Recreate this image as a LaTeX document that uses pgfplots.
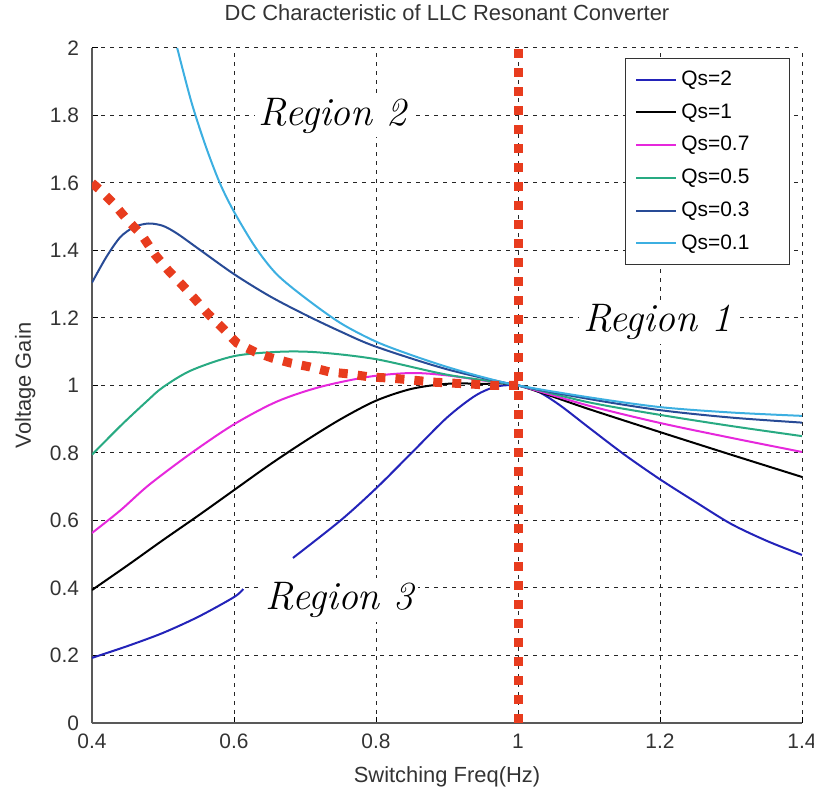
\documentclass[border=0pt]{standalone}
\usepackage{pgfplots}
\pgfplotsset{compat=1.18}
\usepackage{fontspec}
\newfontfamily\arial{Liberation Sans}
\definecolor{cQtwo}{RGB}{35,35,185}
\definecolor{cQone}{RGB}{0,0,0}
\definecolor{cQseven}{RGB}{230,40,220}
\definecolor{cQfive}{RGB}{40,170,130}
\definecolor{cQthree}{RGB}{40,75,150}
\definecolor{cQzero}{RGB}{60,175,225}
\definecolor{cRed}{RGB}{232,60,30}
\begin{document}
\begin{tikzpicture}
\begin{axis}[
  scale only axis, width=355bp, height=337.5bp,
  xmin=0.4, xmax=1.4, ymin=0, ymax=2,
  xtick={0.4,0.6,0.8,1,1.2,1.4},
  ytick={0,0.2,0.4,0.6,0.8,1,1.2,1.4,1.6,1.8,2},
  axis lines=left,
  axis line style={-, draw=black!65, line width=0.8bp},
  tick align=inside, major tick length=3bp,
  tick style={black, line width=0.5bp},
  grid=major,
  major grid style={black!85, line width=0.5bp, dash pattern=on 2bp off 2.5bp},
  ticklabel style={font=\arial\fontsize{10.5}{12}\selectfont, text=black!80},
  /pgf/number format/assume math mode=true,
  xticklabel style={yshift=-2bp},
  yticklabel style={xshift=-3bp},
  xlabel={Switching Freq(Hz)}, ylabel={Voltage Gain},
  label style={font=\arial\fontsize{11}{13}\selectfont, text=black!80},
  xlabel style={at={(axis description cs:0.5,-0.08)}, anchor=center},
  ylabel style={at={(axis description cs:-0.094,0.5)}, anchor=center},
  title={DC Characteristic of LLC Resonant Converter},
  title style={at={(axis description cs:0.5,1.052)}, anchor=center, yshift=-6pt, font=\arial\fontsize{11}{13}\selectfont, text=black!80},
  legend style={at={(axis description cs:0.983,0.985)}, anchor=north east,
    draw=black!80, line width=0.6bp, fill=white,
    font=\arial\fontsize{10.5}{12}\selectfont, row sep=3.6bp, inner xsep=5bp, inner ysep=4bp},
  legend cell align=left,
  legend image code/.code={\draw[#1] (0bp,0bp) -- (20bp,0bp);},
  every axis plot/.append style={line width=1bp},
]
\coordinate (SW) at (rel axis cs:0,0);
\coordinate (NE) at (rel axis cs:1,1);
\node[fill=white, inner sep=2bp, font=\fontsize{20}{24}\selectfont\itshape] at (axis cs:0.739,1.80) {Region 2};
\node[fill=white, inner sep=2bp, font=\fontsize{20}{24}\selectfont\itshape] at (axis cs:1.196,1.188) {Region 1};
\node[fill=white, inner sep=2bp, font=\fontsize{20}{24}\selectfont\itshape] at (axis cs:0.749,0.364) {Region 3};

% Qs=2 (upper part carries the legend entry)
\addplot[cQtwo, smooth, forget plot] coordinates {
(0.4,0.193) (0.45,0.228) (0.5,0.267) (0.55,0.315) (0.6,0.373) (0.613,0.397)};
\addplot[cQtwo, smooth] coordinates {
(0.683,0.489) (0.75,0.60) (0.8,0.695) (0.85,0.80) (0.9,0.905) (0.94,0.97) (0.97,0.997) (1.0,1.0)
(1.03,0.98) (1.06,0.94) (1.1,0.875) (1.15,0.795) (1.2,0.722) (1.25,0.655) (1.3,0.59) (1.35,0.54) (1.4,0.498)};
\addlegendentry{\makebox[47bp][l]{Qs=2}}
% Qs=1
\addplot[cQone, smooth] coordinates {
(0.4,0.394) (0.45,0.467) (0.5,0.542) (0.55,0.615) (0.6,0.69) (0.65,0.765) (0.7,0.835) (0.75,0.9) (0.8,0.955) (0.85,0.99)
(0.9,1.005) (0.95,1.005) (1.0,1.0) (1.1,0.93) (1.2,0.862) (1.3,0.795) (1.4,0.729)};
\addlegendentry{Qs=1}
% Qs=0.7
\addplot[cQseven, smooth] coordinates {
(0.4,0.563) (0.44,0.63) (0.48,0.705) (0.54,0.80) (0.6,0.885) (0.66,0.952) (0.72,0.995)
(0.79,1.026) (0.85,1.037) (0.9,1.03) (0.95,1.015) (1.0,1.0) (1.1,0.94) (1.2,0.889) (1.3,0.845) (1.4,0.803)};
\addlegendentry{Qs=0.7}
% Qs=0.5
\addplot[cQfive, smooth] coordinates {
(0.4,0.795) (0.44,0.88) (0.477,0.953) (0.5,0.995) (0.54,1.045) (0.6,1.087) (0.665,1.10) (0.72,1.098)
(0.8,1.078) (0.9,1.032) (1.0,1.0) (1.1,0.95) (1.2,0.913) (1.3,0.88) (1.4,0.85)};
\addlegendentry{Qs=0.5}
% Qs=0.3
\addplot[cQthree, smooth] coordinates {
(0.4,1.305) (0.42,1.38) (0.44,1.44) (0.46,1.47) (0.48,1.48) (0.50,1.473) (0.52,1.45) (0.55,1.405)
(0.6,1.33) (0.65,1.265) (0.7,1.21) (0.75,1.16) (0.8,1.115) (0.9,1.048) (1.0,1.0) (1.1,0.96) (1.2,0.927) (1.3,0.905) (1.4,0.89)};
\addlegendentry{Qs=0.3}
% Qs=0.1
\addplot[cQzero, smooth] coordinates {
(0.52,2.0) (0.54,1.84) (0.56,1.71) (0.58,1.60) (0.60,1.515) (0.63,1.41) (0.66,1.33) (0.70,1.26) (0.75,1.185)
(0.8,1.13) (0.85,1.09) (0.9,1.055) (0.95,1.025) (1.0,1.0) (1.1,0.965) (1.2,0.936) (1.3,0.92) (1.4,0.91)};
\addlegendentry{Qs=0.1}
% boundary curves
\addplot[cRed, line width=4.5bp, dash pattern=on 4.5bp off 5bp, line cap=butt, forget plot] coordinates {
(0.4,1.60) (0.411,1.58) (0.43,1.54) (0.45,1.49) (0.47,1.446) (0.489,1.387) (0.507,1.342) (0.527,1.298)
(0.545,1.256) (0.563,1.213) (0.584,1.170) (0.604,1.126) (0.63,1.099) (0.654,1.081) (0.679,1.067)
(0.707,1.055) (0.735,1.04) (0.763,1.034) (0.792,1.025) (0.82,1.022) (0.852,1.016) (0.88,1.01)
(0.908,1.007) (0.937,1.004) (0.965,1.0) (1.0,1.0)};
\addplot[cRed, line width=4.5bp, dash pattern=on 4.5bp off 5bp, line cap=butt, forget plot] coordinates {
(1,0) (1,2)};
\end{axis}
\pgfresetboundingbox
\path[use as bounding box] ([xshift=-46bp,yshift=-36.5bp]SW) rectangle ([xshift=6bp,yshift=24bp]NE);
\end{tikzpicture}
\end{document}
